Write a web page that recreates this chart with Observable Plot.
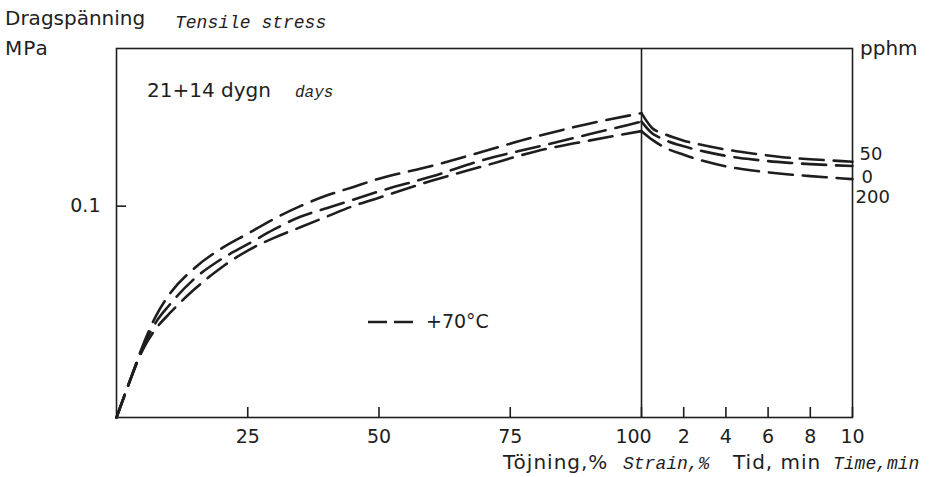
<!DOCTYPE html>
<html><head><meta charset="utf-8">
<script src="https://cdn.jsdelivr.net/npm/d3@7"></script>
<script src="https://cdn.jsdelivr.net/npm/@observablehq/plot@0.6"></script>
<style>body{margin:0;background:#fff} svg{display:block}</style>
</head><body><div id="chart"></div>
<script>
// ---- data ----
const seriesNames = ["50", "0", "200"]; // pphm
const strain = [0, 2.5, 5, 7.5, 10, 15, 20, 25, 30, 35, 40, 45, 50, 60, 70, 80, 90, 100];
const stress50  = [0, 0.017, 0.034, 0.048, 0.058, 0.071, 0.080, 0.087, 0.094, 0.100, 0.105, 0.109, 0.113, 0.119, 0.126, 0.133, 0.139, 0.144];
const stress0   = [0, 0.017, 0.033, 0.045, 0.053, 0.066, 0.075, 0.082, 0.089, 0.095, 0.099, 0.103, 0.107, 0.114, 0.122, 0.128, 0.134, 0.140];
const stress200 = [0, 0.017, 0.032, 0.042, 0.049, 0.061, 0.071, 0.079, 0.085, 0.090, 0.095, 0.100, 0.104, 0.112, 0.119, 0.126, 0.131, 0.1355];
const timeMin = [0, 0.5, 1, 2, 3, 4, 5, 6, 7, 8, 9, 10];
const relax50  = [0.144, 0.137, 0.1345, 0.1310, 0.1287, 0.1268, 0.1253, 0.1240, 0.1229, 0.1222, 0.1216, 0.1210];
const relax0   = [0.140, 0.1345, 0.1318, 0.1283, 0.1258, 0.1238, 0.1224, 0.1213, 0.1205, 0.1199, 0.1194, 0.1190];
const relax200 = [0.1355, 0.1315, 0.1283, 0.1243, 0.1212, 0.1188, 0.1172, 0.1160, 0.1150, 0.1142, 0.1135, 0.1128];
const strainTicks = [25, 50, 75, 100];
const timeTicks = [2, 4, 6, 8, 10];
const yTicks = [0.1];

// ---- build table ----
const loadSets = [stress50, stress0, stress200];
const relaxSets = [relax50, relax0, relax200];
const rows = [];
seriesNames.forEach((s, i) => {
  strain.forEach((x, j) => rows.push({series: s, phase: "load", x: x, y: loadSets[i][j]}));
  timeMin.forEach((t, j) => rows.push({series: s, phase: "relax", x: 100 + t, y: relaxSets[i][j]}));
});
const xTickVals = strainTicks.concat(timeTicks.map(t => 100 + t));
const ends = seriesNames.map((s, i) => ({series: s, x: 110, y: relaxSets[i][relaxSets[i].length - 1]}));
const labelDy = [-8, 11, 18];
const labelDx = [7, 9, 3];

const ink = "#1e1e1e";
const W = 935, H = 477, L = 116, R = 852, T = 48, B = 417;

const chart = Plot.plot({
  width: W, height: H,
  marginLeft: L, marginRight: W - R, marginTop: T, marginBottom: H - B,
  x: {type: "linear", domain: [0, 100, 110], range: [L, 641, R]},
  y: {domain: [0, 0.1746]},
  style: {fontFamily: "DejaVu Sans", fontSize: "19px", color: ink, background: "#fff"},
  marks: [
    Plot.frame({stroke: ink, strokeWidth: 1.6}),
    Plot.ruleX([100], {stroke: ink, strokeWidth: 1.6}),
    Plot.tickX(xTickVals, {x: d => d, insetTop: (B - T) - 10, stroke: ink, strokeWidth: 1.6}),
    Plot.tickY(yTicks, {y: d => d, insetRight: (R - L) - 10, stroke: ink, strokeWidth: 1.6}),
    Plot.axisX(xTickVals.filter(d => d !== 100), {tickSize: 0, tickPadding: 12, fontSize: 19, label: null,
      tickFormat: d => d > 100 ? String(d - 100) : String(d)}),
    Plot.axisX([100], {tickSize: 0, tickPadding: 12, fontSize: 19, label: null, dx: -8, tickFormat: d => "100"}),
    Plot.axisY(yTicks, {tickSize: 0, tickPadding: 16, fontSize: 19, label: null, tickFormat: d => "0.1"}),
    Plot.line(rows, {x: "x", y: "y", z: d => d.series + d.phase, stroke: ink, strokeWidth: 2.6,
      strokeDasharray: "24,10", curve: "monotone-x"}),
    ...seriesNames.map((s, i) => Plot.text([ends[i]], {x: "x", y: "y", text: "series", textAnchor: "start",
      dx: labelDx[i], dy: labelDy[i], fontSize: 18}))
  ]
});

const svg = d3.select(chart);
const mono = "'Liberation Mono', 'DejaVu Sans Mono', monospace";
function txt(x, y, s, opts = {}) {
  svg.append("text").attr("x", x).attr("y", y).text(s)
    .attr("font-family", opts.mono ? mono : "DejaVu Sans")
    .attr("font-style", opts.mono ? "italic" : "normal")
    .attr("font-size", opts.size || 20)
    .attr("letter-spacing", opts.ls || 0)
    .attr("text-anchor", opts.anchor || "start")
    .attr("fill", ink);
}
txt(5, 25, "Dragspänning");
txt(175, 28, "Tensile stress", {mono: true, size: 18});
txt(5, 55, "MPa", {ls: 1});
txt(860, 55, "pphm");
txt(147, 97, "21+14 dygn", {size: 20});
txt(295, 97, "days", {mono: true, size: 16});
txt(426, 328, "+70°C", {size: 19});
svg.append("line").attr("x1", 368).attr("x2", 413).attr("y1", 322).attr("y2", 322)
  .attr("stroke", ink).attr("stroke-width", 2.6).attr("stroke-dasharray", "19,7");
txt(503, 469, "Töjning,%", {size: 20, ls: 1});
txt(623, 469, "Strain,%", {mono: true, size: 18});
txt(733, 469, "Tid, min", {size: 20, ls: 1});
txt(833, 469, "Time,min", {mono: true, size: 18});

document.getElementById("chart").appendChild(chart);
</script>
</body></html>
